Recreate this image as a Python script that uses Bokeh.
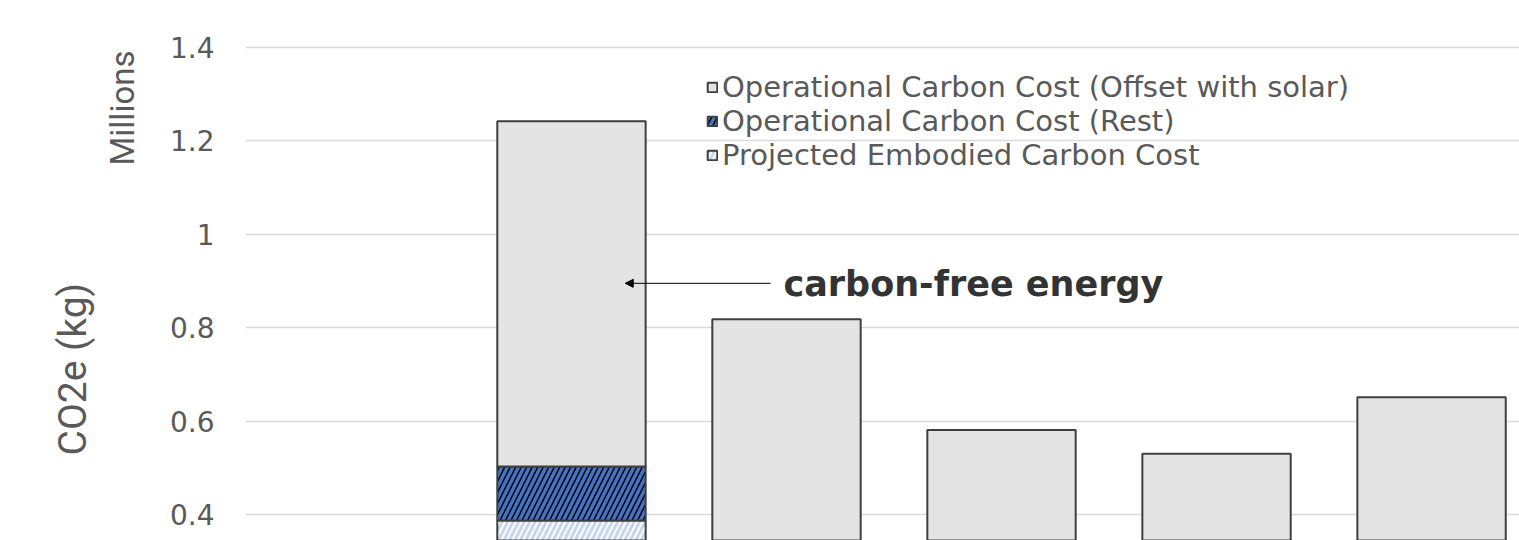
from bokeh.plotting import figure
from bokeh.models import (ColumnDataSource, FixedTicker, Legend, LegendItem, Label,
                          Arrow, NormalHead, Range1d, Title)
from bokeh.embed import file_html
from bokeh.resources import INLINE

# ---- data (values in millions of kg CO2e) ----
categories = ["C0", "C1", "C2", "C3", "C4", "C5"]
x_pos = [0, 1, 2, 3, 4, 5]
embodied = [0.0, 0.387, 0.30, 0.30, 0.30, 0.30]
op_rest = [0.0, 0.116, 0.0, 0.0, 0.0, 0.0]
op_offset = [0.0, 0.739, 0.518, 0.281, 0.230, 0.351]
y_ticks = [0.4, 0.6, 0.8, 1.0, 1.2, 1.4]
y_tick_labels = ["0.4", "0.6", "0.8", "1", "1.2", "1.4"]
legend_labels = ["Operational Carbon Cost (Offset with solar)",
                 "Operational Carbon Cost (Rest)",
                 "Projected Embodied Carbon Cost"]

b1_all = [e for e in embodied]
b2_all = [e + r for e, r in zip(embodied, op_rest)]
b3_all = [e + r + o for e, r, o in zip(embodied, op_rest, op_offset)]
idx = [i for i in range(len(x_pos)) if b3_all[i] > 0]
src = ColumnDataSource(dict(
    x=[x_pos[i] for i in idx],
    b0=[0.0 for i in idx],
    b1=[b1_all[i] for i in idx],
    b2=[b2_all[i] for i in idx],
    b3=[b3_all[i] for i in idx],
    cat=[categories[i] for i in idx]))

p = figure(width=1519, height=540, output_backend="svg", toolbar_location=None,
           x_range=Range1d(-0.516, 5.409), y_range=Range1d(0.3443, 1.5006),
           min_border_left=245, min_border_right=0, min_border_top=0, min_border_bottom=0)
p.outline_line_color = None
p.background_fill_color = "white"
p.border_fill_color = "white"

BW = 0.69
r_emb = p.vbar(x="x", bottom="b0", top="b1", width=BW, source=src,
               fill_color="white", hatch_pattern="/", hatch_color="#c6d6ee",
               hatch_weight=3, hatch_scale=11, line_color="#3f3f3f", line_width=2)
r_rest = p.vbar(x="x", bottom="b1", top="b2", width=BW, source=src,
                fill_color="black", hatch_pattern="/", hatch_color="#4472c4",
                hatch_weight=3.5, hatch_scale=11, line_color="#3f3f3f", line_width=2)
r_off = p.vbar(x="x", bottom="b2", top="b3", width=BW, source=src,
               fill_color="#e4e4e4", line_color="#3f3f3f", line_width=2)

# axes
p.xaxis.visible = False
p.xgrid.visible = False
p.ygrid.grid_line_color = "#d9d9d9"
p.ygrid.grid_line_width = 1.5
p.yaxis.ticker = FixedTicker(ticks=y_ticks)
p.yaxis.major_label_overrides = {t: l for t, l in zip(y_ticks, y_tick_labels)}
p.yaxis.axis_line_color = None
p.yaxis.major_tick_line_color = None
p.yaxis.minor_tick_line_color = None
p.yaxis.major_label_standoff = 25
p.yaxis.major_label_text_font = "DejaVu Sans"
p.yaxis.major_label_text_font_size = "28px"
p.yaxis.major_label_text_color = "#595959"

# axis titles (side panels)
t_mil = Title(text="Millions", align="left", offset=375, standoff=50,
              text_font="Roboto", text_font_size="33px", text_color="#595959",
              text_font_style="normal")
p.add_layout(t_mil, "left")
t_co2 = Title(text="CO2e (kg)", align="left", offset=85, standoff=-41,
              text_font="Roboto", text_font_size="39px", text_color="#595959",
              text_font_style="normal")
p.add_layout(t_co2, "left")

# annotation
p.add_layout(Arrow(end=NormalHead(size=8, fill_color="black", line_color="black"),
                   x_start=1.926, y_start=0.895, x_end=1.25, y_end=0.895,
                   line_color="black", line_width=1))
p.add_layout(Label(x=1.986, y=0.893, text="carbon-free energy", text_align="left",
                   text_baseline="middle", text_font="DejaVu Sans", text_font_style="bold",
                   text_font_size="35px", text_color="#333333"))

legend = Legend(items=[LegendItem(label=lab, renderers=[r])
                       for lab, r in zip(legend_labels, [r_off, r_rest, r_emb])],
                location=(461, 368))
legend.background_fill_alpha = 0
legend.border_line_color = None
legend.padding = 0
legend.margin = 0
legend.spacing = 0
legend.glyph_width = 12
legend.glyph_height = 12
legend.label_height = 33
legend.label_standoff = 4
legend.label_text_font = "DejaVu Sans"
legend.label_text_font_size = "29px"
legend.label_text_color = "#595959"
p.add_layout(legend)

open("out.html", "w").write(file_html(p, INLINE))
